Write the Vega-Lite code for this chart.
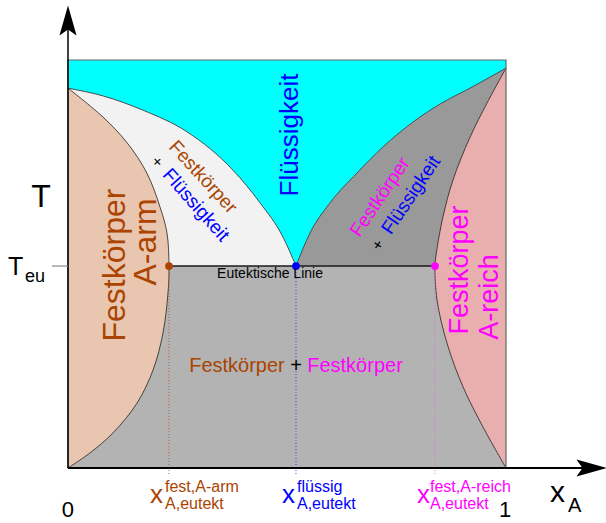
{
  "$schema": "https://vega.github.io/schema/vega-lite/v6.json",
  "width": 606,
  "height": 523,
  "autosize": {"type": "none"},
  "padding": 0,
  "background": "white",
  "config": {"view": {"stroke": null}, "font": "Liberation Sans", "text": {"font": "Liberation Sans"}},
  "datasets": {
    "liqL": [
      {"x": 0, "T": 0.931}, {"x": 0.0799, "T": 0.912}, {"x": 0.1712, "T": 0.877}, {"x": 0.2717, "T": 0.824},
      {"x": 0.3767, "T": 0.730}, {"x": 0.4384, "T": 0.650}, {"x": 0.4909, "T": 0.566},
      {"x": 0.5205, "T": 0.495}
    ],
    "liqR": [
      {"x": 0.5205, "T": 0.495}, {"x": 0.5525, "T": 0.576}, {"x": 0.5982, "T": 0.650}, {"x": 0.6598, "T": 0.723},
      {"x": 0.7192, "T": 0.787}, {"x": 0.7877, "T": 0.848}, {"x": 0.8493, "T": 0.892}, {"x": 0.9178, "T": 0.931},
      {"x": 1, "T": 0.980}
    ],
    "solL": [
      {"T": 0, "x": 0}, {"T": 0.037, "x": 0.0502}, {"T": 0.086, "x": 0.1027}, {"T": 0.159, "x": 0.1575},
      {"T": 0.240, "x": 0.1941}, {"T": 0.331, "x": 0.2169}, {"T": 0.429, "x": 0.2283}, {"T": 0.495, "x": 0.2306},
      {"T": 0.576, "x": 0.226}, {"T": 0.640, "x": 0.210}, {"T": 0.723, "x": 0.180}, {"T": 0.797, "x": 0.135},
      {"T": 0.860, "x": 0.080}, {"T": 0.931, "x": 0}
    ],
    "solR": [
      {"T": 0, "x": 1}, {"T": 0.1005, "x": 0.9475}, {"T": 0.199, "x": 0.9018}, {"T": 0.306, "x": 0.8653},
      {"T": 0.412, "x": 0.8425}, {"T": 0.495, "x": 0.8379}, {"T": 0.527, "x": 0.841}, {"T": 0.615, "x": 0.856},
      {"T": 0.706, "x": 0.879}, {"T": 0.811, "x": 0.918}, {"T": 0.895, "x": 0.957}, {"T": 0.980, "x": 1}
    ]
  },
  "encoding": {
    "x": {"field": "x", "type": "quantitative", "scale": {"domain": [-0.15525, 1.22831], "nice": false, "zero": false}, "axis": null},
    "y": {"field": "T", "type": "quantitative", "scale": {"domain": [-0.13480, 1.14706], "nice": false, "zero": false}, "axis": null}
  },
  "layer": [
    {"data": {"values": [{"x": 0, "x2": 1, "T": 0.495, "T2": 1}]}, "mark": {"type": "rect", "fill": "#00ffff"},
     "encoding": {"x2": {"field": "x2"}, "y2": {"field": "T2"}}},
    {"data": {"name": "liqL"}, "mark": {"type": "area", "fill": "#f2f2f2", "interpolate": "monotone"},
     "encoding": {"y2": {"datum": 0.495}}},
    {"data": {"name": "liqR"}, "mark": {"type": "area", "fill": "#999999", "interpolate": "monotone"},
     "encoding": {"y2": {"datum": 0.495}}},
    {"data": {"values": [{"x": 0, "x2": 1, "T": 0, "T2": 0.495}]}, "mark": {"type": "rect", "fill": "#b3b3b3"},
     "encoding": {"x2": {"field": "x2"}, "y2": {"field": "T2"}}},
    {"data": {"name": "solL"}, "mark": {"type": "line", "interpolate": "catmull-rom", "fill": "#e9c6af", "stroke": "#222222", "strokeWidth": 0.8},
     "encoding": {"order": {"field": "T"}}},
    {"data": {"name": "solR"}, "mark": {"type": "line", "interpolate": "catmull-rom", "fill": "#e9afaf", "stroke": "#222222", "strokeWidth": 0.8},
     "encoding": {"order": {"field": "T"}}},
    {"data": {"name": "liqL"}, "mark": {"type": "line", "stroke": "#4d4d4d", "strokeWidth": 1, "interpolate": "monotone"}, "encoding": {}},
    {"data": {"name": "liqR"}, "mark": {"type": "line", "stroke": "#4d4d4d", "strokeWidth": 1, "interpolate": "monotone"}, "encoding": {}},
    {"data": {"values": [{"x": 0.2306, "x2": 0.8379, "T": 0.495}]}, "mark": {"type": "rule", "stroke": "#1a1a1a", "strokeWidth": 1.6},
     "encoding": {"x2": {"field": "x2"}}},
    {"data": {"values": [{"x": 0.2306, "T": 0.495, "T2": -0.015}]}, "mark": {"type": "rule", "stroke": "#b0653a", "strokeWidth": 1, "strokeDash": [1, 2]},
     "encoding": {"y2": {"field": "T2"}}},
    {"data": {"values": [{"x": 0.5205, "T": 0.495, "T2": -0.015}]}, "mark": {"type": "rule", "stroke": "#3344ff", "strokeWidth": 1, "strokeDash": [1, 2]},
     "encoding": {"y2": {"field": "T2"}}},
    {"data": {"values": [{"x": 0.8379, "T": 0.495, "T2": -0.015}]}, "mark": {"type": "rule", "stroke": "#e070e0", "strokeWidth": 1, "strokeDash": [1, 2]},
     "encoding": {"y2": {"field": "T2"}}},
    {"data": {"values": [{"x": 0, "x2": 1, "T": 0, "T2": 1}]}, "mark": {"type": "rect", "fill": null, "fillOpacity": 0, "stroke": "#666666", "strokeWidth": 1.2},
     "encoding": {"x2": {"field": "x2"}, "y2": {"field": "T2"}}},
    {"data": {"values": [{"x": 0, "T": 0, "T2": 1.10}]}, "mark": {"type": "rule", "stroke": "#000000", "strokeWidth": 1.5},
     "encoding": {"y2": {"field": "T2"}}},
    {"data": {"values": [{"x": 0, "x2": 1.20, "T": 0}]}, "mark": {"type": "rule", "stroke": "#000000", "strokeWidth": 2},
     "encoding": {"x2": {"field": "x2"}}},
    {"data": {"values": [{"x": -0.0365, "x2": 0, "T": 0.495}]}, "mark": {"type": "rule", "stroke": "#888888", "strokeWidth": 1.2},
     "encoding": {"x2": {"field": "x2"}}},
    {"data": {"values": [{"x": 0, "T": 1.0968}]}, "mark": {"type": "point", "shape": "M0,-1L0.57,1L0,0.6L-0.57,1Z", "size": 900, "filled": true, "fill": "#000000", "opacity": 1, "strokeWidth": 0}, "encoding": {}},
    {"data": {"values": [{"x": 1.1952, "T": 0}]}, "mark": {"type": "point", "shape": "M1,0L-1,0.57L-0.6,0L-1,-0.57Z", "size": 900, "filled": true, "fill": "#000000", "opacity": 1, "strokeWidth": 0}, "encoding": {}},
    {"data": {"values": [{"x": 0.2306, "T": 0.495}]}, "mark": {"type": "circle", "size": 60, "fill": "#aa4400", "opacity": 1}, "encoding": {}},
    {"data": {"values": [{"x": 0.5205, "T": 0.495}]}, "mark": {"type": "circle", "size": 60, "fill": "#0000ff", "opacity": 1}, "encoding": {}},
    {"data": {"values": [{"x": 0.8379, "T": 0.495}]}, "mark": {"type": "circle", "size": 60, "fill": "#ff00ff", "opacity": 1}, "encoding": {}},

    {"data": {"values": [{"x": -0.0616, "T": 0.6397, "t": "T"}]}, "mark": {"type": "text", "fontSize": 32, "align": "center", "baseline": "alphabetic", "fill": "#000000"}, "encoding": {"text": {"field": "t"}}},
    {"data": {"values": [{"x": -0.137, "T": 0.473, "t": "T"}]}, "mark": {"type": "text", "fontSize": 25, "align": "left", "baseline": "alphabetic", "fill": "#000000"}, "encoding": {"text": {"field": "t"}}},
    {"data": {"values": [{"x": -0.0982, "T": 0.456, "t": "eu"}]}, "mark": {"type": "text", "fontSize": 18, "align": "left", "baseline": "alphabetic", "fill": "#000000"}, "encoding": {"text": {"field": "t"}}},
    {"data": {"values": [{"x": 0, "T": -0.1201, "t": "0"}, {"x": 0.998, "T": -0.1201, "t": "1"}]}, "mark": {"type": "text", "fontSize": 22, "align": "center", "baseline": "alphabetic", "fill": "#000000"}, "encoding": {"text": {"field": "t"}}},
    {"data": {"values": [{"x": 1.1005, "T": -0.0833, "t": "x"}]}, "mark": {"type": "text", "fontSize": 30, "align": "left", "baseline": "alphabetic", "fill": "#000000"}, "encoding": {"text": {"field": "t"}}},
    {"data": {"values": [{"x": 1.1416, "T": -0.1078, "t": "A"}]}, "mark": {"type": "text", "fontSize": 20, "align": "left", "baseline": "alphabetic", "fill": "#000000"}, "encoding": {"text": {"field": "t"}}},

    {"data": {"values": [{"x": 0.1073, "T": 0.4975, "t": "Festkörper"}, {"x": 0.1781, "T": 0.5539, "t": "A-arm"}]}, "mark": {"type": "text", "fontSize": 32, "angle": 270, "align": "center", "baseline": "middle", "fill": "#aa4400"}, "encoding": {"text": {"field": "t"}}},
    {"data": {"values": [{"x": 0.895, "T": 0.4853, "t": "Festkörper"}, {"x": 0.9635, "T": 0.4191, "t": "A-reich"}]}, "mark": {"type": "text", "fontSize": 27, "angle": 270, "align": "center", "baseline": "middle", "fill": "#ff00ff"}, "encoding": {"text": {"field": "t"}}},
    {"data": {"values": [{"x": 0.5068, "T": 0.8162, "t": "Flüssigkeit"}]}, "mark": {"type": "text", "fontSize": 26, "angle": 270, "align": "center", "baseline": "middle", "fill": "#0000ff"}, "encoding": {"text": {"field": "t"}}},

    {"data": {"values": [{"x": 0.3082, "T": 0.7132, "t": "Festkörper"}]}, "mark": {"type": "text", "fontSize": 19, "angle": 47.5, "align": "center", "baseline": "middle", "fill": "#aa4400"}, "encoding": {"text": {"field": "t"}}},
    {"data": {"values": [{"x": 0.2922, "T": 0.6446, "t": "Flüssigkeit"}]}, "mark": {"type": "text", "fontSize": 19, "angle": 48.5, "align": "center", "baseline": "middle", "fill": "#0000ff"}, "encoding": {"text": {"field": "t"}}},
    {"data": {"values": [{"x": 0.2032, "T": 0.75, "t": "+"}]}, "mark": {"type": "text", "fontSize": 16, "angle": 47, "align": "center", "baseline": "middle", "fill": "#000000"}, "encoding": {"text": {"field": "t"}}},
    {"data": {"values": [{"x": 0.7123, "T": 0.6642, "t": "Festkörper"}]}, "mark": {"type": "text", "fontSize": 19, "angle": 304, "align": "center", "baseline": "middle", "fill": "#ff00ff"}, "encoding": {"text": {"field": "t"}}},
    {"data": {"values": [{"x": 0.7831, "T": 0.6691, "t": "Flüssigkeit"}]}, "mark": {"type": "text", "fontSize": 19, "angle": 304, "align": "center", "baseline": "middle", "fill": "#0000ff"}, "encoding": {"text": {"field": "t"}}},
    {"data": {"values": [{"x": 0.7078, "T": 0.5466, "t": "+"}]}, "mark": {"type": "text", "fontSize": 16, "angle": 304, "align": "center", "baseline": "middle", "fill": "#000000"}, "encoding": {"text": {"field": "t"}}},

    {"data": {"values": [{"x": 0.4612, "T": 0.4657, "t": "Eutektische Linie"}]}, "mark": {"type": "text", "fontSize": 14, "align": "center", "baseline": "alphabetic", "fill": "#000000"}, "encoding": {"text": {"field": "t"}}},
    {"data": {"values": [{"x": 0.3858, "T": 0.2353, "t": "Festkörper"}]}, "mark": {"type": "text", "fontSize": 20, "align": "center", "baseline": "alphabetic", "fill": "#aa4400"}, "encoding": {"text": {"field": "t"}}},
    {"data": {"values": [{"x": 0.5205, "T": 0.2353, "t": "+"}]}, "mark": {"type": "text", "fontSize": 20, "align": "center", "baseline": "alphabetic", "fill": "#000000"}, "encoding": {"text": {"field": "t"}}},
    {"data": {"values": [{"x": 0.6553, "T": 0.2353, "t": "Festkörper"}]}, "mark": {"type": "text", "fontSize": 20, "align": "center", "baseline": "alphabetic", "fill": "#ff00ff"}, "encoding": {"text": {"field": "t"}}},

    {"data": {"values": [{"x": 0.1872, "T": -0.0858, "t": "x"}]}, "mark": {"type": "text", "fontSize": 26, "align": "left", "baseline": "alphabetic", "fill": "#aa4400"}, "encoding": {"text": {"field": "t"}}},
    {"data": {"values": [{"x": 0.2215, "T": -0.0588, "t": "fest,A-arm"}, {"x": 0.2215, "T": -0.1005, "t": "A,eutekt"}]}, "mark": {"type": "text", "fontSize": 16, "align": "left", "baseline": "alphabetic", "fill": "#aa4400"}, "encoding": {"text": {"field": "t"}}},
    {"data": {"values": [{"x": 0.4886, "T": -0.0858, "t": "x"}]}, "mark": {"type": "text", "fontSize": 26, "align": "left", "baseline": "alphabetic", "fill": "#0000ff"}, "encoding": {"text": {"field": "t"}}},
    {"data": {"values": [{"x": 0.5228, "T": -0.0588, "t": "flüssig"}, {"x": 0.5228, "T": -0.1005, "t": "A,eutekt"}]}, "mark": {"type": "text", "fontSize": 16, "align": "left", "baseline": "alphabetic", "fill": "#0000ff"}, "encoding": {"text": {"field": "t"}}},
    {"data": {"values": [{"x": 0.7968, "T": -0.0858, "t": "x"}]}, "mark": {"type": "text", "fontSize": 26, "align": "left", "baseline": "alphabetic", "fill": "#ff00ff"}, "encoding": {"text": {"field": "t"}}},
    {"data": {"values": [{"x": 0.8265, "T": -0.0588, "t": "fest,A-reich"}, {"x": 0.8265, "T": -0.1005, "t": "A,eutekt"}]}, "mark": {"type": "text", "fontSize": 16, "align": "left", "baseline": "alphabetic", "fill": "#ff00ff"}, "encoding": {"text": {"field": "t"}}}
  ]
}
